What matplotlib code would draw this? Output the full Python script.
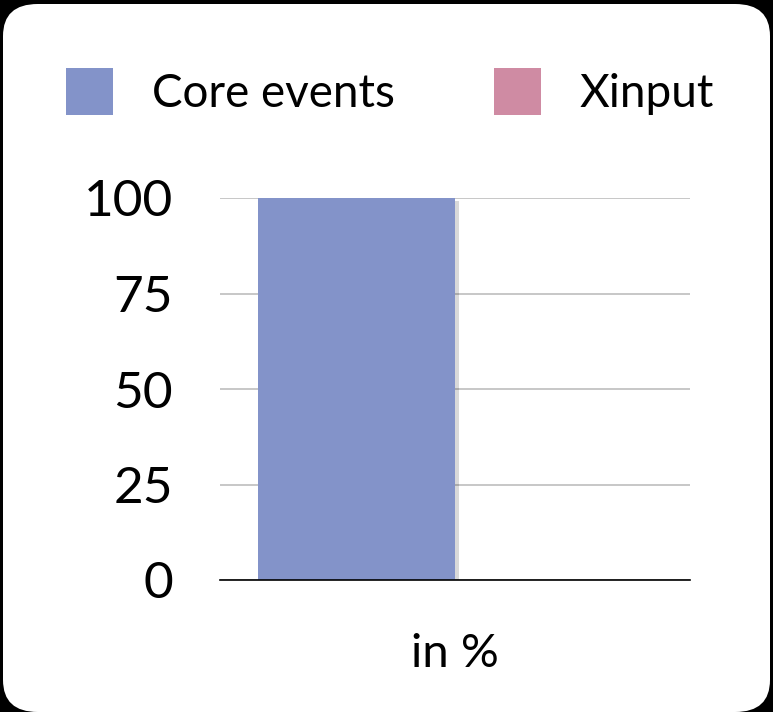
import matplotlib
matplotlib.use("Agg")
import matplotlib.pyplot as plt
from matplotlib.patches import FancyBboxPatch, Patch
import matplotlib.patheffects as pe

series = ["Core events", "Xinput"]
values = [100, 0]
colors = ["#8393C9", "#CF8BA3"]
yticks = [0, 25, 50, 75, 100]
xlabel = "in %"

plt.rcParams['font.family'] = ['Lato', 'DejaVu Sans']

W, H = 773, 712
fig = plt.figure(figsize=(W / 100, H / 100), dpi=100, facecolor="black")

bg = FancyBboxPatch((3 / W, 0 / H), 767 / W, 708 / H,
                    boxstyle="round,pad=0,rounding_size=0.045",
                    transform=fig.transFigure, facecolor="white",
                    edgecolor="none", zorder=-10)
fig.patches.append(bg)

ax = fig.add_axes([220 / W, 1 - 580 / H, 470 / W, (580 - 198) / H])
ax.set_zorder(2)
ax.set_facecolor("none")

bw = 1.0
xs = [0, 1]
margin = 38 / 197
for x, v, c, s in zip(xs, values, colors, series):
    ax.bar(x, v, width=bw, color=c, label=s, zorder=3,
           path_effects=[pe.SimplePatchShadow(offset=(3, -2), shadow_rgbFace="black",
                                              alpha=0.15),
                         pe.Normal()])

ax.set_xlim(-0.5 - margin, 1.5 + margin)
ax.set_ylim(0, 100)
ax.set_yticks(yticks)
ax.set_yticklabels([str(t) for t in yticks])
ax.tick_params(axis='y', length=0, pad=34, labelsize=37)
ax.set_xticks([])
for sp in ["top", "right", "left"]:
    ax.spines[sp].set_visible(False)
ax.spines["bottom"].set_color("black")
ax.spines["bottom"].set_linewidth(1.2)
ax.spines["bottom"].set_zorder(4)
ax.yaxis.grid(True, color="#bdbdbd", linewidth=1.2, zorder=1)
ax.set_axisbelow(True)
ax.set_xlabel(xlabel, fontsize=34, labelpad=38)

handles = [Patch(facecolor=c, edgecolor="none") for c in colors]
leg = fig.legend(handles, series, loc="upper left",
                 bbox_to_anchor=(66 / W, 1 - 68 / H), ncol=2, frameon=False,
                 fontsize=33, handlelength=1.03, handleheight=1.2,
                 handletextpad=0.85, columnspacing=2.15, borderpad=0,
                 borderaxespad=0)
leg.set_zorder(3)

fig.savefig("out.png", dpi=100, facecolor="black")
